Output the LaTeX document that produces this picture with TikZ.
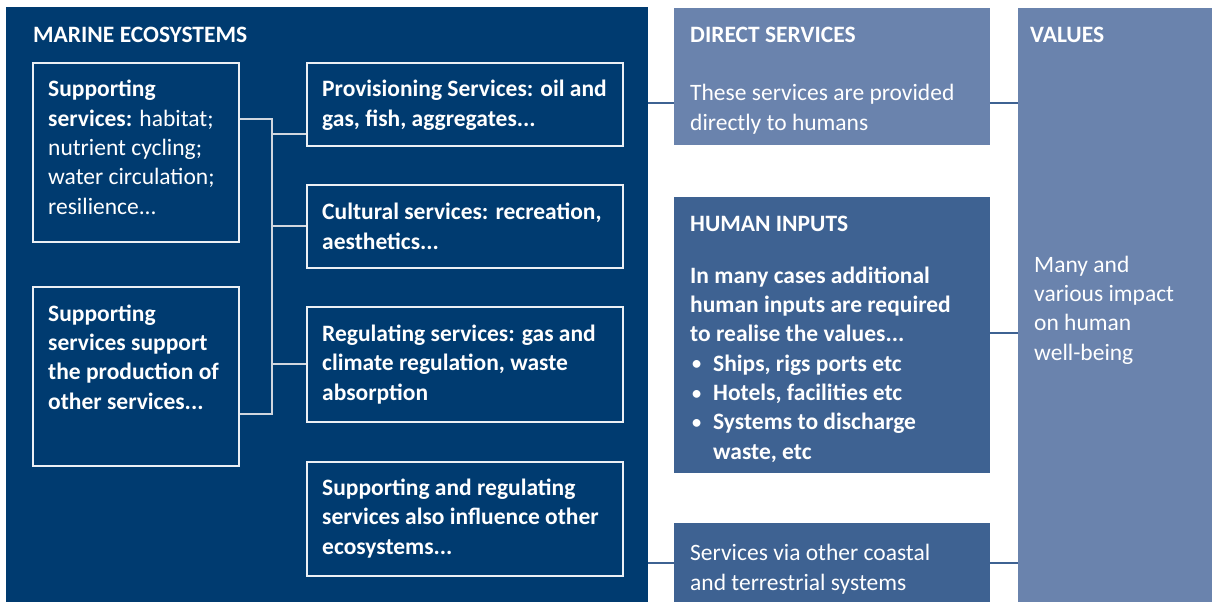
\documentclass[tikz,border=0pt]{standalone}
\usepackage{fontspec}
\setmainfont{Carlito}
\definecolor{navy}{HTML}{003B70}
\definecolor{lightblue}{HTML}{6A83AD}
\definecolor{midblue}{HTML}{3E6292}
\definecolor{linegrey}{HTML}{D0D6DE}
\newcommand{\mybul}{\makebox[23pt][l]{\hspace{2pt}\raisebox{1.2pt}{\scalebox{0.78}{\textbullet}}}}
\begin{document}
\begin{tikzpicture}[x=1pt,y=-1pt,
  txt/.style={anchor=base west, inner sep=0pt, align=left, text=white, font=\fontsize{23.5}{29.3}\selectfont},
  hd/.style={txt, font=\fontsize{23.5}{29.3}\selectfont\bfseries},
  panel/.style={draw=none, inner sep=0pt, anchor=north west},
  wbox/.style={draw=white!92!navy, line width=1.6pt, inner sep=0pt, anchor=north west},
  tree/.style={draw=linegrey, line width=1.8pt},
  link/.style={draw=midblue, line width=1.8pt}]
\useasboundingbox[fill=white] (0,0) rectangle (1212,602);
% panels
\node[panel, fill=navy, minimum width=642pt, minimum height=595pt] (marine) at (6,7) {};
\node[panel, fill=lightblue, minimum width=316pt, minimum height=137pt] (direct) at (674,8) {};
\node[panel, fill=midblue, minimum width=316pt, minimum height=276pt] (human) at (674,197) {};
\node[panel, fill=midblue, minimum width=316pt, minimum height=79pt] (via) at (674,523) {};
\node[panel, fill=lightblue, minimum width=194pt, minimum height=594pt] (values) at (1018,8) {};
% boxes inside marine panel
\node[wbox, minimum width=206pt, minimum height=179pt] (s1) at (32,62) {};
\node[wbox, minimum width=206pt, minimum height=179pt] (s2) at (32,286) {};
\node[wbox, minimum width=316pt, minimum height=83pt] (p) at (306,62) {};
\node[wbox, minimum width=316pt, minimum height=83pt] (c) at (306,184) {};
\node[wbox, minimum width=316pt, minimum height=115pt] (r) at (306,306) {};
\node[wbox, minimum width=316pt, minimum height=114pt] (se) at (306,461) {};
% tree connectors
\coordinate (j1) at (272,119);
\coordinate (j2) at (272,414);
\coordinate (bp) at (306,134);
\draw[tree] (s1.north east |- j1) -- (j1) -- (j2) -- (s2.north east |- j2);
\draw[tree] (j1 |- bp) -- (p.west |- bp);
\draw[tree] (j1 |- c.west) -- (c.west);
\draw[tree] (j1 |- r.west) -- (r.west);
% links
\coordinate (l1) at (0,103);
\coordinate (l2) at (0,333);
\coordinate (l3) at (0,563);
\draw[link] (marine.east |- l1) -- (direct.west |- l1);
\draw[link] (marine.east |- l3) -- (via.west |- l3);
\draw[link] (direct.east |- l1) -- (values.west |- l1);
\draw[link] (human.east |- l2) -- (values.west |- l2);
\draw[link] (via.east |- l3) -- (values.west |- l3);
% texts (anchor = baseline of the last line)
\node[hd] (tmarine) at (33,43) {MARINE ECOSYSTEMS};
\node[txt] (ts1) at (48,214) {\textbf{Supporting}\\\textbf{services:} habitat;\\nutrient cycling;\\water circulation;\\resilience...};
\node[hd] (ts2) at (48,409) {Supporting\\services support\\the production of\\other services...};
\node[hd] (tp) at (322,126) {Provisioning Services: oil and\\gas, fish, aggregates...};
\node[hd] (tc) at (322,249) {Cultural services: recreation,\\aesthetics...};
\node[hd] (tr) at (322,400) {Regulating services: gas and\\climate regulation, waste\\absorption};
\node[hd] (tse) at (322,554) {Supporting and regulating\\services also influence other\\ecosystems...};
\node[hd] (tdirect) at (690,43) {DIRECT SERVICES};
\node[txt] (bdirect) at (690,130) {These services are provided\\directly to humans};
\node[hd] (thuman) at (690,231) {HUMAN INPUTS};
\node[hd] (bhuman) at (690,459) {In many cases additional\\human inputs are required\\to realise the values...\\
\mybul Ships, rigs ports etc\\
\mybul Hotels, facilities etc\\
\mybul Systems to discharge\\
\hspace*{23pt}waste, etc};
\node[txt] (bvia) at (690,590) {Services via other coastal\\and terrestrial systems};
\node[hd] (tvalues) at (1030,43) {VALUES};
\node[txt] (bvalues) at (1034,360) {Many and\\various impact\\on human\\well-being};
\end{tikzpicture}
\end{document}
